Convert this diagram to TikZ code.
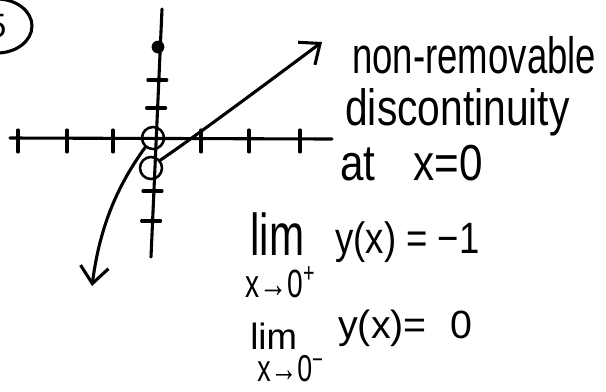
\documentclass[tikz,border=0pt]{standalone}
\usepackage{fontspec}
\setmainfont{Liberation Sans}
\usetikzlibrary{arrows.meta}
\newcommand{\hand}[2][1.3]{\scalebox{1}[#1]{#2}}
\newcommand{\up}[1]{\smash{\textsuperscript{#1}}}
\tikzset{
  hw/label/.style={anchor=base west, inner sep=0pt, font=\fontsize{26}{28}\selectfont},
  hw/sub/.style={anchor=base west, inner sep=0pt, font=\fontsize{20}{22}\selectfont},
  hw/line/.style={line width=2.2pt, line cap=round, line join=round},
  hw/curve/.style={hw/line, -{Straight Barb[length=12pt,width=20pt,line width=2.2pt]}},
  hw/hole/.style={circle, draw, line width=1.8pt, minimum size=0.55cm, inner sep=0pt},
  hw/dot/.style={circle, fill, minimum size=0.32cm, inner sep=0pt}
}

\begin{document}
\begin{tikzpicture}[x=0.025cm,y=-0.025cm]
  \useasboundingbox (0,0) rectangle (606,391);

  % problem number
  \node[font=\fontsize{24}{26}\selectfont] (num) at (-3,26) {5};
  \draw[hw/line] (num.center) ellipse [x radius=35, y radius=27];

  % axes
  \coordinate (xleft) at (10,138);
  \coordinate (xright) at (332,139);
  \coordinate (ytop) at (162,9);
  \coordinate (ybot) at (151,257);
  \draw[hw/line] (xleft) -- (xright);
  \draw[hw/line] (ytop) -- (ybot);
  \foreach \x in {18,67,113,201,249,300}
    \draw[hw/line] (\x,130) -- (\x,152);
  \foreach \y/\x in {80/158.8,108/157.6,191/154,221/152.6}
    \draw[hw/line] (\x-11,\y) -- (\x+8,\y);

  % points on the graph
  \node[hw/dot] (filled) at (158,47) {};
  \node[hw/hole] (hole0) at (153,138) {};
  \node[hw/hole] (hole1) at (151,168) {};

  % the two branches
  \coordinate (tipR) at (322,42);
  \coordinate (tipL) at (92,286);
  \draw[hw/curve] (hole1.40) .. controls (190,140) and (255,92) .. (tipR);
  \draw[hw/curve] (hole0.230) .. controls (118,185) and (100,225) .. (tipL);

  % notes
  \node[hw/label] (kind) at (352,73) {\hand[1.4]{non-removable}};
  \node[hw/label, font=\fontsize{29}{31}\selectfont] (disc) at (345,125) {\hand[1.25]{discontinuity}};
  \node[hw/label, font=\fontsize{30}{32}\selectfont] (where) at (340,180)
    {\hand[1.2]{at\hspace{0.9em}x=0}};

  \node[hw/label, font=\fontsize{30}{32}\selectfont] (limA) at (250,255) {\hand[1.4]{lim}};
  \node[hw/sub] (toA) at (245,297) {\hand[1.4]{x→0\up{+}}};
  \node[hw/label] (valA) at (335,253) {\hand[1.2]{y(x) = −1}};

  \node[hw/label] (limB) at (250,349) {lim};
  \node[hw/sub, font=\fontsize{19}{21}\selectfont] (toB) at (257,381) {\hand[1.4]{x→0\up{−}}};
  \node[hw/label, font=\fontsize{28}{30}\selectfont] (valB) at (338,338) {y(x)=\hspace{0.6em}0};
\end{tikzpicture}
\end{document}
